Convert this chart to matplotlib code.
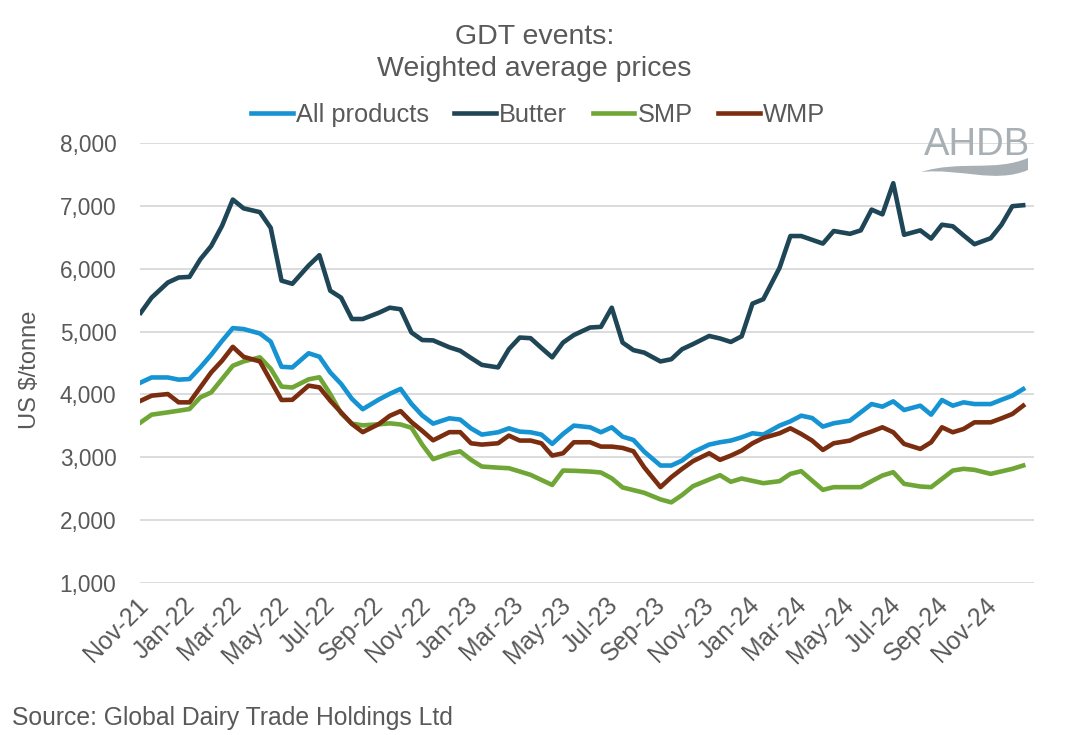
import numpy as np
import pandas as pd
import matplotlib
matplotlib.use("Agg")
import matplotlib.pyplot as plt
import matplotlib.dates as mdates
from matplotlib.ticker import FuncFormatter
from matplotlib.path import Path
from matplotlib.patches import PathPatch
from matplotlib.transforms import ScaledTranslation

plt.rcParams['font.family'] = ['Liberation Sans', 'DejaVu Sans']

# GDT event dates (first and third Tuesday of each month)
event_dates = [
    "2021-11-02", "2021-11-16", "2021-12-07", "2021-12-21",
    "2022-01-04", "2022-01-18", "2022-02-01", "2022-02-15", "2022-03-01", "2022-03-15",
    "2022-04-05", "2022-04-19", "2022-05-03", "2022-05-17", "2022-06-07", "2022-06-21",
    "2022-07-05", "2022-07-19", "2022-08-02", "2022-08-16", "2022-09-06", "2022-09-20",
    "2022-10-04", "2022-10-18", "2022-11-01", "2022-11-15", "2022-12-06", "2022-12-20",
    "2023-01-03", "2023-01-17", "2023-02-07", "2023-02-21", "2023-03-07", "2023-03-21",
    "2023-04-04", "2023-04-18", "2023-05-02", "2023-05-16", "2023-06-06", "2023-06-20",
    "2023-07-04", "2023-07-18", "2023-08-01", "2023-08-15", "2023-09-05", "2023-09-19",
    "2023-10-03", "2023-10-17", "2023-11-07", "2023-11-21", "2023-12-05", "2023-12-19",
    "2024-01-02", "2024-01-16", "2024-02-06", "2024-02-20", "2024-03-05", "2024-03-19",
    "2024-04-02", "2024-04-16", "2024-05-07", "2024-05-21", "2024-06-04", "2024-06-18",
    "2024-07-02", "2024-07-16", "2024-08-06", "2024-08-20", "2024-09-03", "2024-09-17",
    "2024-10-01", "2024-10-15", "2024-11-05", "2024-11-19", "2024-12-03", "2024-12-17",
]

all_products = [4190, 4270, 4270, 4235, 4245, 4430, 4630, 4850, 5055, 5040,
                4970, 4840, 4440, 4430, 4655, 4600, 4350, 4168, 3930, 3765,
                3920, 4010, 4088, 3850, 3665, 3535, 3620, 3600, 3460, 3361,
                3398, 3461, 3408, 3398, 3361, 3213, 3371, 3504, 3477, 3398,
                3477, 3329, 3276, 3090, 2869, 2869, 2948, 3080, 3202, 3239,
                3266, 3318, 3382, 3361, 3504, 3572, 3662, 3625, 3488, 3541,
                3583, 3715, 3847, 3805, 3890, 3752, 3821, 3678, 3911, 3821,
                3874, 3847, 3847, 3915, 3980, 4085]

butter = [5300, 5540, 5780, 5860, 5870, 6150, 6360, 6680, 7100, 6960,
          6900, 6650, 5810, 5760, 6050, 6215, 5650, 5540, 5200, 5200,
          5300, 5380, 5355, 4985, 4865, 4860, 4750, 4695, 4580, 4470,
          4430, 4720, 4905, 4895, 4740, 4590, 4825, 4945, 5065, 5075,
          5380, 4825, 4705, 4665, 4525, 4560, 4720, 4800, 4930, 4890,
          4835, 4925, 5445, 5515, 6015, 6520, 6520, 6460, 6400, 6600,
          6555, 6610, 6940, 6865, 7360, 6540, 6610, 6480, 6700, 6675,
          6530, 6390, 6485, 6700, 6995, 7010]

smp = [3556, 3678, 3715, 3741, 3768, 3953, 4032, 4244, 4456, 4525,
       4590, 4410, 4125, 4110, 4240, 4273, 4006, 3700, 3535, 3508,
       3525, 3540, 3522, 3470, 3200, 2970, 3060, 3095, 2960, 2853,
       2835, 2826, 2774, 2721, 2640, 2560, 2789, 2785, 2773, 2758,
       2665, 2520, 2478, 2435, 2330, 2283, 2400, 2540, 2646, 2715,
       2610, 2662, 2625, 2588, 2620, 2736, 2779, 2630, 2482, 2525,
       2525, 2525, 2620, 2710, 2763, 2578, 2535, 2525, 2657, 2789,
       2816, 2800, 2736, 2776, 2816, 2869]

wmp = [3900, 3980, 4006, 3874, 3874, 4112, 4350, 4535, 4757, 4598,
       4525, 4218, 3911, 3915, 4140, 4112, 3900, 3715, 3530, 3400,
       3530, 3660, 3735, 3560, 3420, 3270, 3400, 3400, 3223, 3202,
       3223, 3345, 3266, 3266, 3223, 3027, 3064, 3239, 3239, 3170,
       3170, 3149, 3096, 2840, 2525, 2683, 2816, 2938, 3064, 2959,
       3027, 3107, 3223, 3308, 3382, 3461, 3371, 3266, 3117, 3223,
       3266, 3350, 3410, 3477, 3398, 3213, 3133, 3239, 3477, 3398,
       3451, 3556, 3556, 3620, 3689, 3821]

series_names = ["All products", "Butter", "SMP", "WMP"]
series_colors = ["#1693D2", "#1F4656", "#6FA636", "#7B2D0F"]
text_color = "#595959"

dates = pd.to_datetime(event_dates)

W, H = 1069, 735
fig = plt.figure(figsize=(W / 100, H / 100), dpi=100)
ax = fig.add_axes([140 / W, 1 - 583 / H, (1034 - 140) / W, (583 - 143) / H])

for name, vals, col in zip(series_names, [all_products, butter, smp, wmp], series_colors):
    ax.plot(dates, vals, color=col, lw=3.3, label=name, solid_joinstyle='round')

ax.set_xlim(pd.Timestamp("2021-11-01"), pd.Timestamp("2024-12-31"))
ax.set_ylim(1000, 8000)
ax.set_yticks(range(1000, 8001, 1000))
ax.yaxis.set_major_formatter(FuncFormatter(lambda v, p: f"{v:,.0f}"))
ax.xaxis.set_major_locator(mdates.MonthLocator(bymonth=[1, 3, 5, 7, 9, 11]))
ax.xaxis.set_major_formatter(mdates.DateFormatter('%b-%y'))
ax.grid(axis='y', color='#D9D9D9', lw=1.3)
ax.set_axisbelow(True)
for s in ax.spines.values():
    s.set_visible(False)
ax.tick_params(axis='both', length=0, colors=text_color)
ax.tick_params(axis='y', labelsize=16.3, pad=17)
ax.tick_params(axis='x', labelsize=17.8, pad=7)
shift = ScaledTranslation(-4 / 100, 0, fig.dpi_scale_trans)
for lab in ax.get_xticklabels():
    lab.set_rotation(45)
    lab.set_ha('right')
    lab.set_va('top')
    lab.set_rotation_mode('anchor')
    lab.set_transform(lab.get_transform() + shift)

fig.text(0.5, 1 - 53 / H, "GDT events:\nWeighted average prices", ha='center', va='center',
         fontsize=20.5, color=text_color, linespacing=1.3)

fig.legend(loc='center', bbox_to_anchor=(538 / W, 1 - 115 / H), ncol=4, frameon=False,
           fontsize=18.3, handlelength=1.65, handletextpad=0.12, columnspacing=1.0,
           labelcolor=text_color)

fig.text(30 / W, 1 - 370 / H, "US $/tonne", rotation=90, ha='center', va='center',
         fontsize=17, color=text_color)
fig.text(12 / W, 1 - 718 / H, "Source: Global Dairy Trade Holdings Ltd", ha='left',
         va='center', fontsize=17.8, color=text_color)

# AHDB logo
logo_col = "#A8B0B5"
fig.text(924 / W, 1 - 145 / H, "AHDB", ha='left', va='center', fontsize=27.5, color=logo_col)
sw = [(921, 172), (960, 160), (995, 172), (1028, 158),
      (1028, 170), (995, 184), (960, 168), (921, 172)]
sw = [(x / W, 1 - y / H) for x, y in sw]
codes = [Path.MOVETO, Path.CURVE4, Path.CURVE4, Path.CURVE4,
         Path.LINETO, Path.CURVE4, Path.CURVE4, Path.CURVE4]
fig.patches.append(PathPatch(Path(sw, codes), transform=fig.transFigure,
                             facecolor=logo_col, edgecolor='none'))

fig.savefig("out.png", dpi=100)
